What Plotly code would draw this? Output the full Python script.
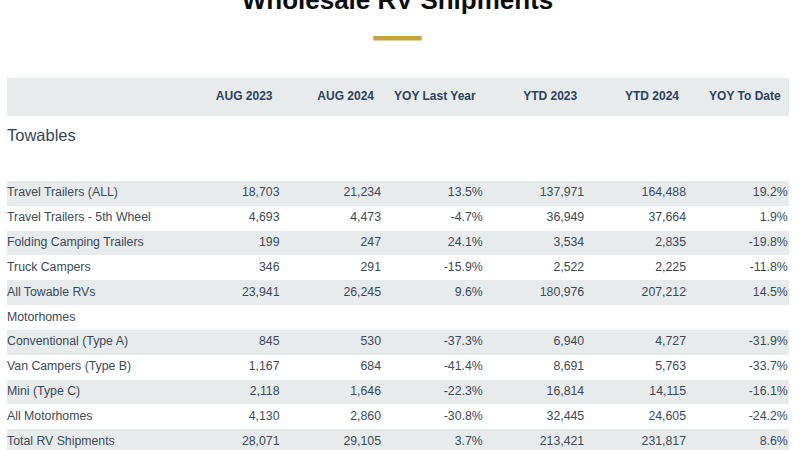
import plotly.graph_objects as go

# ---- data ----
title_text = "Wholesale RV Shipments"
col_headers = ["AUG 2023", "AUG 2024", "YOY Last Year", "YTD 2023", "YTD 2024", "YOY To Date"]
section_label = "Towables"
labels = ["Travel Trailers (ALL)", "Travel Trailers - 5th Wheel", "Folding Camping Trailers",
          "Truck Campers", "All Towable RVs", "Motorhomes", "Conventional (Type A)",
          "Van Campers (Type B)", "Mini (Type C)", "All Motorhomes", "Total RV Shipments"]
aug2023 = [18703, 4693, 199, 346, 23941, None, 845, 1167, 2118, 4130, 28071]
aug2024 = [21234, 4473, 247, 291, 26245, None, 530, 684, 1646, 2860, 29105]
yoy_last_year = [13.5, -4.7, 24.1, -15.9, 9.6, None, -37.3, -41.4, -22.3, -30.8, 3.7]
ytd2023 = [137971, 36949, 3534, 2522, 180976, None, 6940, 8691, 16814, 32445, 213421]
ytd2024 = [164488, 37664, 2835, 2225, 207212, None, 4727, 5763, 14115, 24605, 231817]
yoy_to_date = [19.2, 1.9, -19.8, -11.8, 14.5, None, -31.9, -33.7, -16.1, -24.2, 8.6]

# ---- layout geometry (pixel-like axis units) ----
W, H = 800, 450
LEFT, RIGHT = 7, 788.5
HEAD_TOP, HEAD_BOT = 78, 116
SECTION_Y = 136.7
ROW_TOP0 = 181
ROW_H = 24.83
COL_RIGHT = [279.5, 381.0, 482.7, 584.2, 686.0, 787.7]
HEAD_SHIFT = 7

GREY = "#e8ebec"
BODY = "#3c4959"
HEAD = "#2d425d"
FONT = "Liberation Sans, Arial, Helvetica, sans-serif"
BODY_SIZE = 12.3


def fmt_int(v):
    return "" if v is None else f"{v:,}"


def fmt_pct(v):
    return "" if v is None else f"{v:.1f}%"


columns = [
    [fmt_int(v) for v in aug2023],
    [fmt_int(v) for v in aug2024],
    [fmt_pct(v) for v in yoy_last_year],
    [fmt_int(v) for v in ytd2023],
    [fmt_int(v) for v in ytd2024],
    [fmt_pct(v) for v in yoy_to_date],
]

n = len(labels)
row_centers = [ROW_TOP0 + ROW_H * (i + 0.5) for i in range(n)]

fig = go.Figure()

# band backgrounds: header + every other data row
band_y = [(HEAD_TOP + HEAD_BOT) / 2] + [row_centers[i] for i in range(0, n, 2)]
band_h = [HEAD_BOT - HEAD_TOP] + [ROW_H] * len(range(0, n, 2))
fig.add_trace(go.Bar(
    orientation="h", y=band_y, x=[RIGHT - LEFT] * len(band_y), base=[LEFT] * len(band_y),
    width=band_h, marker=dict(color=GREY, line=dict(width=0)), hoverinfo="skip",
    showlegend=False,
))

# header texts
fig.add_trace(go.Scatter(
    x=[c - HEAD_SHIFT for c in COL_RIGHT], y=[(HEAD_TOP + HEAD_BOT) / 2] * len(col_headers),
    text=col_headers, mode="text", textposition="middle left",
    textfont=dict(family=FONT, size=12, color=HEAD, weight="bold"),
    hoverinfo="skip", showlegend=False,
))

# section label
fig.add_trace(go.Scatter(
    x=[LEFT], y=[SECTION_Y], text=[section_label], mode="text", textposition="middle right",
    textfont=dict(family=FONT, size=16.5, color="#36465a"), hoverinfo="skip", showlegend=False,
))

# row labels
fig.add_trace(go.Scatter(
    x=[LEFT] * n, y=row_centers, text=labels, mode="text", textposition="middle right",
    textfont=dict(family=FONT, size=BODY_SIZE, color=BODY), hoverinfo="skip", showlegend=False,
))

# value columns
for xr, vals in zip(COL_RIGHT, columns):
    fig.add_trace(go.Scatter(
        x=[xr] * n, y=row_centers, text=vals, mode="text", textposition="middle left",
        textfont=dict(family=FONT, size=BODY_SIZE, color=BODY), hoverinfo="skip", showlegend=False,
        cliponaxis=False,
    ))

# title
fig.add_trace(go.Scatter(
    x=[397.5], y=[2.7], text=[title_text], mode="text", textposition="middle center",
    textfont=dict(family=FONT, size=26, color="#0d0d0d", weight="bold"),
    hoverinfo="skip", showlegend=False,
))

# gold accent line under the title
fig.add_shape(type="rect", x0=373.3, x1=421.7, y0=36, y1=40.5, xref="x", yref="y",
              fillcolor="#c9a23d", line=dict(width=0), layer="above")

fig.update_layout(
    width=W, height=H, margin=dict(l=0, r=0, t=0, b=0),
    paper_bgcolor="white", plot_bgcolor="white", bargap=0,
    xaxis=dict(range=[0, W], visible=False, fixedrange=True),
    yaxis=dict(range=[H, 0], visible=False, fixedrange=True),
)

fig.write_html("out.html", config={"displayModeBar": False},
               post_script="document.body.style.margin='0';document.body.style.overflow='hidden';")
